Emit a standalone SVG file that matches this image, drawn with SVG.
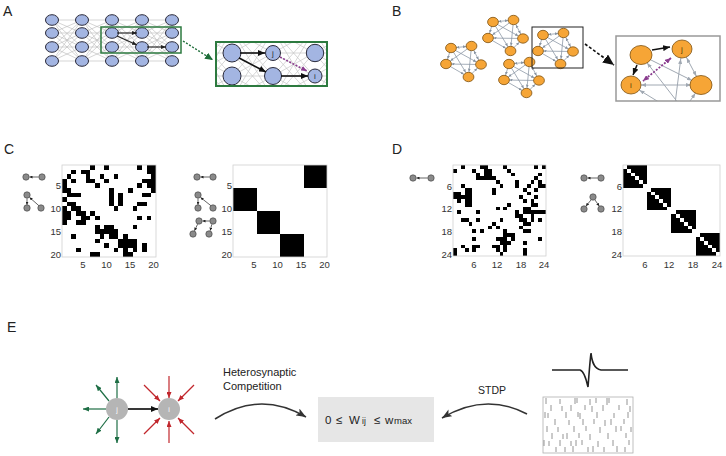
<svg xmlns="http://www.w3.org/2000/svg" width="726" height="456" viewBox="0 0 726 456">
<style>
text{font-family:"Liberation Sans",Arial,sans-serif;fill:#222}
.lbl{font-size:14px}
.tk{font-size:9.5px;fill:#333}
.tl{text-anchor:end}
.tb{text-anchor:middle}
.an{fill:#a3b5e2;stroke:#2b2b3b;stroke-width:1}
.bn{fill:#f6a536;stroke:#7d5212;stroke-width:0.8}
.meshA{fill:none;stroke:#b9b9b9;stroke-width:0.6}
.meshI{fill:none;stroke:#c6c6c6;stroke-width:0.7}
.ce line{stroke:#8793a1;stroke-width:0.75}
.gi{stroke:#a0a8b2;stroke-width:1;fill:none}
.frame{fill:none;stroke:#d0d0d0;stroke-width:0.8}
.ic{fill:#8a8a8a;stroke:#3a3a3a;stroke-width:0.6}
.it{stroke:#222;stroke-width:0.7;fill:none}
.eg{stroke:#1e6e45;stroke-width:1.2;fill:none}
.er{stroke:#c1272d;stroke-width:1.2;fill:none}
.en{fill:#b5b5b5}
.et{font-size:7px;fill:#fff;text-anchor:middle}
.nl{font-size:8px;text-anchor:middle;fill:#2a2a3a}
.bt tspan{fill:#222}
</style>
<defs>
<marker id="ms" viewBox="0 0 5 4" refX="5" refY="2" markerWidth="5" markerHeight="4" orient="auto" markerUnits="userSpaceOnUse"><path d="M0 0L5 2L0 4z" fill="#222"/></marker>
<marker id="mk" viewBox="0 0 7 6" refX="7" refY="3" markerWidth="7" markerHeight="6" orient="auto" markerUnits="userSpaceOnUse"><path d="M0 0L7 3L0 6z" fill="#111"/></marker>
<marker id="mg" viewBox="0 0 8 7" refX="8" refY="3.5" markerWidth="8" markerHeight="7" orient="auto" markerUnits="userSpaceOnUse"><path d="M0 0L8 3.5L0 7z" fill="#1f6e3a"/></marker>
<marker id="mp" viewBox="0 0 6 5" refX="6" refY="2.5" markerWidth="6" markerHeight="5" orient="auto-start-reverse" markerUnits="userSpaceOnUse"><path d="M0 0L6 2.5L0 5z" fill="#8a3d8f"/></marker>
<marker id="mc" viewBox="0 0 3 3" refX="8.5" refY="1.5" markerWidth="3" markerHeight="3" orient="auto-start-reverse" markerUnits="userSpaceOnUse"><path d="M0 0L3 1.5L0 3z" fill="#8793a1"/></marker>
<marker id="mi" viewBox="0 0 5 4" refX="15" refY="2" markerWidth="5" markerHeight="4" orient="auto-start-reverse" markerUnits="userSpaceOnUse"><path d="M0 0L5 2L0 4z" fill="#a0a8b2"/></marker>
<marker id="mb" viewBox="0 0 11 10" refX="11" refY="5" markerWidth="11" markerHeight="10" orient="auto" markerUnits="userSpaceOnUse"><path d="M0 0L11 5L0 10z" fill="#111"/></marker>
<marker id="mt" viewBox="0 0 3 3" refX="3" refY="1.5" markerWidth="3" markerHeight="3" orient="auto" markerUnits="userSpaceOnUse"><path d="M0 0L3 1.5L0 3z" fill="#222"/></marker>
<marker id="meg" viewBox="0 0 6 5" refX="6" refY="2.5" markerWidth="6" markerHeight="5" orient="auto" markerUnits="userSpaceOnUse"><path d="M0 0L6 2.5L0 5z" fill="#1e6e45"/></marker>
<marker id="mer" viewBox="0 0 6 5" refX="6" refY="2.5" markerWidth="6" markerHeight="5" orient="auto" markerUnits="userSpaceOnUse"><path d="M0 0L6 2.5L0 5z" fill="#c1272d"/></marker>
<marker id="md" viewBox="0 0 10 8" refX="10" refY="4" markerWidth="10" markerHeight="8" orient="auto" markerUnits="userSpaceOnUse"><path d="M0 0L10 4L0 8L2.5 4z" fill="#333"/></marker>
<path id="gapA" d="M0 20L30 20M0 20L30 33M0 20L30 47M0 20L30 61M0 33L30 20M0 33L30 33M0 33L30 47M0 33L30 61M0 47L30 20M0 47L30 33M0 47L30 47M0 47L30 61M0 61L30 20M0 61L30 33M0 61L30 47M0 61L30 61"/>
<path id="gapI" d="M0 30L41 30M0 30L41 53M0 30L41 76M0 30L41 99M0 53L41 30M0 53L41 53M0 53L41 76M0 53L41 99M0 76L41 30M0 76L41 53M0 76L41 76M0 76L41 99M0 99L41 30M0 99L41 53M0 99L41 76M0 99L41 99"/>
<clipPath id="clipAI"><rect x="216" y="42" width="111" height="44"/></clipPath>
<clipPath id="clipBI"><rect x="616" y="36" width="104" height="65"/></clipPath>
<g id="cl">
<g class="ce">
<line x1="20.5" y1="-2" x2="0" y2="0" marker-start="url(#mc)" marker-end="url(#mc)"/>
<line x1="0" y1="0" x2="-5" y2="16" marker-end="url(#mc)"/>
<line x1="20.5" y1="-2" x2="30" y2="16.5" marker-start="url(#mc)" marker-end="url(#mc)"/>
<line x1="-5" y1="16" x2="17.5" y2="29" marker-end="url(#mc)"/>
<line x1="17.5" y1="29" x2="30" y2="16.5" marker-end="url(#mc)"/>
<line x1="0" y1="0" x2="30" y2="16.5" marker-end="url(#mc)"/>
<line x1="0" y1="0" x2="17.5" y2="29" marker-end="url(#mc)"/>
<line x1="20.5" y1="-2" x2="-5" y2="16" marker-end="url(#mc)"/>
<line x1="20.5" y1="-2" x2="17.5" y2="29" marker-end="url(#mc)"/>
<line x1="-5" y1="16" x2="30" y2="16.5" marker-start="url(#mc)"/>
</g>
<ellipse class="bn" cx="0" cy="0" rx="5.4" ry="4.7"/>
<ellipse class="bn" cx="20.5" cy="-2" rx="5.4" ry="4.7"/>
<ellipse class="bn" cx="-5" cy="16" rx="5.4" ry="4.7"/>
<ellipse class="bn" cx="30" cy="16.5" rx="5.4" ry="4.7"/>
<ellipse class="bn" cx="17.5" cy="29" rx="5.4" ry="4.7"/>
</g>
</defs>

<rect width="726" height="456" fill="#fff"/>

<!-- Panel letters -->
<text class="lbl" x="3" y="16">A</text>
<text class="lbl" x="392" y="16">B</text>
<text class="lbl" x="4" y="154">C</text>
<text class="lbl" x="392" y="154">D</text>
<text class="lbl" x="7" y="332">E</text>

<!-- ===== Panel A ===== -->
<g id="connectors-A">
<g class="meshA">
<use href="#gapA" x="52"/><use href="#gapA" x="82"/><use href="#gapA" x="112"/><use href="#gapA" x="142"/>
</g>
</g>
<g id="A-network-nodes">
<ellipse class="an" cx="52" cy="20" rx="6.5" ry="5.3"/><ellipse class="an" cx="52" cy="33" rx="6.5" ry="5.3"/><ellipse class="an" cx="52" cy="47" rx="6.5" ry="5.3"/><ellipse class="an" cx="52" cy="61" rx="6.5" ry="5.3"/>
<ellipse class="an" cx="82" cy="20" rx="6.5" ry="5.3"/><ellipse class="an" cx="82" cy="33" rx="6.5" ry="5.3"/><ellipse class="an" cx="82" cy="47" rx="6.5" ry="5.3"/><ellipse class="an" cx="82" cy="61" rx="6.5" ry="5.3"/>
<ellipse class="an" cx="112" cy="20" rx="6.5" ry="5.3"/><ellipse class="an" cx="112" cy="33" rx="6.5" ry="5.3"/><ellipse class="an" cx="112" cy="47" rx="6.5" ry="5.3"/><ellipse class="an" cx="112" cy="61" rx="6.5" ry="5.3"/>
<ellipse class="an" cx="142" cy="20" rx="6.5" ry="5.3"/><ellipse class="an" cx="142" cy="33" rx="6.5" ry="5.3"/><ellipse class="an" cx="142" cy="47" rx="6.5" ry="5.3"/><ellipse class="an" cx="142" cy="61" rx="6.5" ry="5.3"/>
<ellipse class="an" cx="172" cy="20" rx="6.5" ry="5.3"/><ellipse class="an" cx="172" cy="33" rx="6.5" ry="5.3"/><ellipse class="an" cx="172" cy="47" rx="6.5" ry="5.3"/><ellipse class="an" cx="172" cy="61" rx="6.5" ry="5.3"/>
</g>
<g id="A-arrows">
<path d="M117 33H137" stroke="#222" stroke-width="1.1" marker-end="url(#ms)"/>
<path d="M117 36L137 45" stroke="#222" stroke-width="1.1" marker-end="url(#ms)"/>
<path d="M147 47H166" stroke="#222" stroke-width="1.1" marker-end="url(#ms)"/>
<rect x="101" y="27" width="80" height="26" fill="none" stroke="#2d7a3f" stroke-width="1.5"/>
<path d="M183 41L213 60" stroke="#1f6e3a" stroke-width="1.4" stroke-dasharray="2 1.6" fill="none" marker-end="url(#mg)"/>
</g>
<g id="A-inset">
<rect x="216" y="42" width="111" height="44" fill="#fff"/>
<g clip-path="url(#clipAI)" class="meshI">
<use href="#gapI" x="191"/><use href="#gapI" x="232"/><use href="#gapI" x="273"/><use href="#gapI" x="314"/>
</g>
<circle class="an" cx="232" cy="53" r="9"/>
<circle class="an" cx="232" cy="76" r="9"/>
<circle class="an" cx="273" cy="53" r="7.5"/>
<circle class="an" cx="273" cy="76" r="8.5"/>
<circle class="an" cx="315" cy="53" r="8.7"/>
<circle class="an" cx="315" cy="76" r="7"/>
<text class="nl" x="273" y="56">j</text>
<text class="nl" x="315" y="79">i</text>
<path d="M240 53H265" stroke="#111" stroke-width="1.6" marker-end="url(#mk)"/>
<path d="M239 58L266 72" stroke="#111" stroke-width="1.6" marker-end="url(#mk)"/>
<path d="M281 76H308" stroke="#111" stroke-width="1.6" marker-end="url(#mk)"/>
<path d="M280 57L307 71" stroke="#8a3d8f" stroke-width="1.6" stroke-dasharray="2 1.5" marker-end="url(#mp)"/>
<rect x="216" y="42" width="111" height="44" fill="none" stroke="#2d7a3f" stroke-width="2"/>
</g>

<!-- ===== Panel B ===== -->
<g id="B-cluster-1"><use href="#cl" x="451" y="48"/></g>
<g id="B-cluster-2"><use href="#cl" x="493" y="22"/></g>
<g id="B-cluster-3"><use href="#cl" x="509" y="64"/></g>
<g id="B-cluster-4"><use href="#cl" x="543" y="35"/></g>
<g id="B-connectors">
<rect x="532" y="27" width="51" height="41" fill="none" stroke="#222" stroke-width="1"/>
<path d="M585 44L614 65" stroke="#111" stroke-width="1.6" stroke-dasharray="3 2" fill="none" marker-end="url(#mb)"/>
</g>
<g id="B-inset">
<rect x="616" y="36" width="104" height="65" fill="#fff"/>
<g clip-path="url(#clipBI)">
<line class="gi" x1="701" y1="85" x2="631" y2="85" marker-start="url(#mi)" marker-end="url(#mi)"/>
<line class="gi" x1="641" y1="55" x2="701" y2="85" marker-end="url(#mi)"/>
<line class="gi" x1="682" y1="49" x2="701" y2="85" marker-start="url(#mi)" marker-end="url(#mi)"/>
<line class="gi" x1="682" y1="49" x2="675" y2="104" marker-start="url(#mi)"/>
<line class="gi" x1="641" y1="55" x2="679" y2="104" marker-start="url(#mi)"/>
<line class="gi" x1="631" y1="85" x2="662" y2="104" marker-start="url(#mi)"/>
<line class="gi" x1="701" y1="85" x2="688" y2="104" marker-start="url(#mi)"/>
</g>
<ellipse class="bn" cx="641" cy="55" rx="11" ry="9.5"/>
<ellipse class="bn" cx="682" cy="49" rx="10" ry="9"/>
<ellipse class="bn" cx="631" cy="85" rx="10" ry="9"/>
<ellipse class="bn" cx="701" cy="85" rx="11" ry="9.5"/>
<text x="682" y="52" font-size="8" text-anchor="middle" style="fill:#5a3a00">j</text>
<text x="631" y="88" font-size="8" text-anchor="middle" style="fill:#5a3a00">i</text>
<path d="M652 50L670 47" stroke="#111" stroke-width="1.5" marker-end="url(#mk)"/>
<path d="M637 65L633 75" stroke="#111" stroke-width="1.5" marker-end="url(#mk)"/>
<path d="M671 58L643 81" stroke="#8a3d8f" stroke-width="1.8" stroke-dasharray="2 1.5" marker-start="url(#mp)" marker-end="url(#mp)"/>
<rect x="616" y="36" width="104" height="65" fill="none" stroke="#999" stroke-width="1.5"/>
</g>

<!-- ===== Panel C ===== -->
<g id="C-icons">
<circle class="ic" cx="26" cy="177" r="3.2"/><circle class="ic" cx="42" cy="177" r="3.2"/>
<path class="it" d="M38.5 177H29.5" marker-end="url(#mt)"/>
<circle class="ic" cx="27" cy="195" r="3.2"/><circle class="ic" cx="27" cy="208" r="3.2"/><circle class="ic" cx="41" cy="208" r="3.2"/>
<path class="it" d="M27 198.5V204.7" marker-end="url(#mt)"/>
<path class="it" d="M38.8 205.6L29.6 197.5" marker-end="url(#mt)"/>
<circle class="ic" cx="197" cy="177" r="3.2"/><circle class="ic" cx="213" cy="177" r="3.2"/>
<path class="it" d="M209.5 177H200.5" marker-end="url(#mt)"/>
<circle class="ic" cx="198" cy="195" r="3.2"/><circle class="ic" cx="198" cy="208" r="3.2"/><circle class="ic" cx="213" cy="208" r="3.2"/>
<path class="it" d="M198 198.5V204.7" marker-end="url(#mt)"/>
<path class="it" d="M210.8 205.6L200.6 197.5" marker-end="url(#mt)"/>
<circle class="ic" cx="199" cy="221" r="3.2"/><circle class="ic" cx="213" cy="221" r="3.2"/><circle class="ic" cx="193" cy="234" r="3.2"/><circle class="ic" cx="209" cy="234" r="3.2"/>
<path class="it" d="M209.6 221H202.5" marker-end="url(#mt)"/>
<path class="it" d="M197.6 224.2L194.5 230.7" marker-end="url(#mt)"/>
<path class="it" d="M211.8 224.3L210.2 230.6" marker-end="url(#mt)"/>
</g>
<g id="C-matrix-left">
<path shape-rendering="crispEdges" fill="#000" transform="translate(62 165) scale(4.7 4.6)" d="M6 0h1v1h-1zM9 0h1v1h-1zM16 0h1v1h-1zM18 0h2v1h-2zM2 1h1v1h-1zM4 1h2v1h-2zM18 1h2v1h-2zM1 2h1v1h-1zM5 2h1v1h-1zM8 2h1v1h-1zM11 2h1v1h-1zM19 2h1v1h-1zM0 3h1v1h-1zM2 3h1v1h-1zM5 3h2v1h-2zM9 3h1v1h-1zM17 3h3v1h-3zM0 4h1v1h-1zM7 4h1v1h-1zM16 4h1v1h-1zM18 4h2v1h-2zM0 5h2v1h-2zM10 5h1v1h-1zM14 5h1v1h-1zM19 5h1v1h-1zM1 6h3v1h-3zM10 6h1v1h-1zM12 6h1v1h-1zM17 6h2v1h-2zM0 7h1v1h-1zM10 7h1v1h-1zM12 7h1v1h-1zM1 8h2v1h-2zM10 8h1v1h-1zM12 8h1v1h-1zM16 8h2v1h-2zM0 9h1v1h-1zM2 9h2v1h-2zM11 9h1v1h-1zM15 9h1v1h-1zM0 10h2v1h-2zM3 10h2v1h-2zM6 10h1v1h-1zM0 11h2v1h-2zM4 11h2v1h-2zM7 11h1v1h-1zM16 11h1v1h-1zM18 11h1v1h-1zM0 12h1v1h-1zM3 12h2v1h-2zM7 13h1v1h-1zM9 13h2v1h-2zM15 13h1v1h-1zM7 14h5v1h-5zM2 15h1v1h-1zM8 15h1v1h-1zM10 15h2v1h-2zM13 15h1v1h-1zM7 16h1v1h-1zM12 16h4v1h-4zM9 17h1v1h-1zM12 17h4v1h-4zM17 17h1v1h-1zM3 18h1v1h-1zM11 18h1v1h-1zM13 18h1v1h-1zM15 18h1v1h-1zM17 18h1v1h-1zM6 19h2v1h-2zM13 19h2v1h-2z"/>
<rect class="frame" x="62" y="165" width="94" height="92"/>
<text class="tk tl" x="61" y="189">5</text><text class="tk tl" x="61" y="212">10</text><text class="tk tl" x="61" y="235">15</text><text class="tk tl" x="61" y="258">20</text>
<text class="tk tb" x="83" y="268">5</text><text class="tk tb" x="106.6" y="268">10</text><text class="tk tb" x="130" y="268">15</text><text class="tk tb" x="153.5" y="268">20</text>
</g>
<g id="C-matrix-right">
<path shape-rendering="crispEdges" fill="#000" transform="translate(233 165) scale(4.7 4.6)" d="M15 0h5v5h-5zM0 5h5v5h-5zM5 10h5v5h-5zM10 15h5v5h-5z"/>
<rect class="frame" x="233" y="165" width="94" height="92"/>
<text class="tk tl" x="232" y="189">5</text><text class="tk tl" x="232" y="212">10</text><text class="tk tl" x="232" y="235">15</text><text class="tk tl" x="232" y="258">20</text>
<text class="tk tb" x="254" y="268">5</text><text class="tk tb" x="277.5" y="268">10</text><text class="tk tb" x="301" y="268">15</text><text class="tk tb" x="324.5" y="268">20</text>
</g>

<!-- ===== Panel D ===== -->
<g id="D-icons">
<circle class="ic" cx="413" cy="178" r="3.2"/><circle class="ic" cx="431" cy="178" r="3.2"/>
<path class="it" d="M427.5 178H416.5" marker-end="url(#mt)"/>
<circle class="ic" cx="584" cy="178" r="3.2"/><circle class="ic" cx="601" cy="178" r="3.2"/>
<path class="it" d="M597.5 178H587.5" marker-end="url(#mt)"/>
<circle class="ic" cx="593" cy="197" r="3.2"/><circle class="ic" cx="584" cy="209" r="3.2"/><circle class="ic" cx="601" cy="209" r="3.2"/>
<path class="it" d="M591 200L586 206" marker-end="url(#mt)"/>
<path class="it" d="M595 200L599.2 206" marker-end="url(#mt)"/>
</g>
<g id="D-matrix-left">
<path shape-rendering="crispEdges" fill="#000" transform="translate(453 165) scale(3.875 3.79)" d="M2 0h1v1h-1zM7 0h2v1h-2zM13 0h1v1h-1zM21 0h1v1h-1zM23 0h1v1h-1zM0 1h1v1h-1zM5 1h1v1h-1zM8 1h2v1h-2zM14 1h1v1h-1zM6 2h1v1h-1zM8 2h2v1h-2zM15 2h1v1h-1zM22 2h1v1h-1zM6 3h5v1h-5zM21 3h1v1h-1zM11 4h1v1h-1zM16 4h1v1h-1zM20 4h1v1h-1zM22 4h1v1h-1zM2 5h1v1h-1zM12 5h1v1h-1zM16 5h1v1h-1zM19 5h1v1h-1zM22 5h2v1h-2zM3 6h2v1h-2zM10 6h1v1h-1zM18 6h1v1h-1zM21 6h1v1h-1zM0 7h2v1h-2zM3 7h2v1h-2zM10 7h1v1h-1zM19 7h1v1h-1zM0 8h5v1h-5zM17 8h1v1h-1zM21 8h1v1h-1zM1 9h1v1h-1zM3 9h2v1h-2zM18 9h1v1h-1zM20 9h1v1h-1zM3 10h2v1h-2zM14 10h1v1h-1zM20 10h2v1h-2zM11 11h1v1h-1zM13 11h1v1h-1zM18 11h2v1h-2zM1 12h1v1h-1zM6 12h1v1h-1zM16 12h1v1h-1zM18 12h6v1h-6zM16 13h2v1h-2zM20 13h1v1h-1zM2 14h2v1h-2zM6 14h1v1h-1zM12 14h1v1h-1zM17 14h2v1h-2zM20 14h1v1h-1zM22 14h1v1h-1zM4 15h1v1h-1zM10 15h1v1h-1zM18 15h2v1h-2zM9 16h1v1h-1zM11 16h1v1h-1zM17 16h1v1h-1zM5 17h1v1h-1zM7 17h1v1h-1zM13 17h1v1h-1zM18 17h2v1h-2zM13 18h3v1h-3zM5 19h1v1h-1zM11 19h3v1h-3zM15 19h1v1h-1zM22 19h1v1h-1zM12 20h3v1h-3zM18 20h1v1h-1zM2 21h1v1h-1zM5 21h2v1h-2zM10 21h2v1h-2zM13 21h1v1h-1zM0 22h1v1h-1zM3 22h1v1h-1zM5 22h1v1h-1zM11 22h1v1h-1zM13 22h1v1h-1zM18 22h1v1h-1zM0 23h1v1h-1zM12 23h1v1h-1zM18 23h1v1h-1z"/>
<rect class="frame" x="453" y="165" width="93" height="91"/>
<text class="tk tl" x="452" y="189.5">6</text><text class="tk tl" x="452" y="212">12</text><text class="tk tl" x="452" y="235">18</text><text class="tk tl" x="452" y="258">24</text>
<text class="tk tb" x="474" y="268">6</text><text class="tk tb" x="497" y="268">12</text><text class="tk tb" x="521" y="268">18</text><text class="tk tb" x="544" y="268">24</text>
</g>
<g id="D-matrix-right">
<g shape-rendering="crispEdges" transform="translate(623 165) scale(4.04 3.79)">
<path fill="#000" d="M0 0h6v6h-6zM6 6h6v6h-6zM12 12h6v6h-6zM18 18h6v6h-6z"/>
<path fill="#fff" d="M0 0h1v1h-1zM1 1h1v1h-1zM2 2h1v1h-1zM3 3h1v1h-1zM4 4h1v1h-1zM5 5h1v1h-1zM6 6h1v1h-1zM7 7h1v1h-1zM8 8h1v1h-1zM9 9h1v1h-1zM10 10h1v1h-1zM11 11h1v1h-1zM12 12h1v1h-1zM13 13h1v1h-1zM14 14h1v1h-1zM15 15h1v1h-1zM16 16h1v1h-1zM17 17h1v1h-1zM18 18h1v1h-1zM19 19h1v1h-1zM20 20h1v1h-1zM21 21h1v1h-1zM22 22h1v1h-1zM23 23h1v1h-1z"/>
</g>
<rect class="frame" x="623" y="165" width="97" height="91"/>
<text class="tk tl" x="622" y="189.5">6</text><text class="tk tl" x="622" y="212">12</text><text class="tk tl" x="622" y="235">18</text><text class="tk tl" x="622" y="258">24</text>
<text class="tk tb" x="645" y="268">6</text><text class="tk tb" x="669" y="268">12</text><text class="tk tb" x="693" y="268">18</text><text class="tk tb" x="717" y="268">24</text>
</g>

<!-- ===== Panel E ===== -->
<g id="E-connectors">
<path class="eg" d="M117 398V377" marker-end="url(#meg)"/>
<path class="eg" d="M117 420V443" marker-end="url(#meg)"/>
<path class="eg" d="M106 409H83" marker-end="url(#meg)"/>
<path class="eg" d="M109 401L96 385" marker-end="url(#meg)"/>
<path class="eg" d="M109 417L96 434" marker-end="url(#meg)"/>
<path class="er" d="M169 376V398" marker-end="url(#mer)"/>
<path class="er" d="M169 443V421" marker-end="url(#mer)"/>
<path class="er" d="M144 385L160 401" marker-end="url(#mer)"/>
<path class="er" d="M194 385L178 401" marker-end="url(#mer)"/>
<path class="er" d="M144 434L160 418" marker-end="url(#mer)"/>
<path class="er" d="M194 434L178 418" marker-end="url(#mer)"/>
<path d="M128 409H158" stroke="#222" stroke-width="1.8" marker-end="url(#mk)"/>
<path d="M215 419Q260 390 306 417" fill="none" stroke="#333" stroke-width="1.5" marker-end="url(#md)"/>
<path d="M527 414Q485 392 442 418" fill="none" stroke="#333" stroke-width="1.5" marker-end="url(#md)"/>
</g>
<g id="E-node-j"><circle class="en" cx="117" cy="409" r="11"/><text class="et" x="117" y="412">j</text></g>
<g id="E-node-i"><circle class="en" cx="169" cy="409" r="11"/><text class="et" x="169" y="412">i</text></g>
<text x="223" y="376" font-size="11">Heterosynaptic</text>
<text x="223" y="390" font-size="11">Competition</text>
<text x="478" y="394" font-size="10.5">STDP</text>
<g id="E-bound">
<rect x="318" y="397" width="116" height="45" fill="#e6e6e6"/>
<text class="bt" y="424" font-size="11.5"><tspan x="325">0</tspan><tspan x="336">≤</tspan><tspan x="349">W</tspan><tspan x="362" font-size="8.5">ij</tspan><tspan x="374">≤</tspan><tspan x="385">w</tspan><tspan x="394" font-size="9.5">max</tspan></text>
</g>
<g id="E-spike">
<path d="M552 370H580C584 371 586 378 588 387C589 375 590 360 591 353C592 362 594 369 601 370H628" fill="none" stroke="#222" stroke-width="1.6"/>
</g>
<g id="E-raster">
<rect x="543" y="397" width="90" height="56" fill="#fff" stroke="#b0b0b0" stroke-width="0.8"/>
<path fill="none" stroke="#7a7a7a" stroke-width="0.8" d="M546 398v6M560 399v5M575 398v6M577 398v5M590 399v6M596 398v5M607 398v7M609 398v5M627 399v6M551 405v6M562 406v5M571 405v6M585 405v5M592 406v6M603 405v6M619 405v5M630 406v6M545 412v6M548 413v5M566 412v6M578 412v5M580 413v6M597 412v6M614 413v5M628 412v6M555 419v6M569 420v5M583 419v6M594 419v5M605 420v6M611 419v6M624 419v5M547 426v6M558 427v5M574 426v6M586 426v5M600 427v6M616 426v6M621 426v5M631 427v5M552 433v6M563 434v5M567 433v6M579 433v5M590 434v6M608 433v6M626 433v5M544 440v6M549 441v5M560 440v6M571 441v5M576 440v6M582 440v5M598 441v6M613 440v6M629 440v5M556 447v5M565 447v5M573 446v6M588 447v5M593 446v6M604 447v5M617 446v6M625 447v5"/>
</g>
</svg>
